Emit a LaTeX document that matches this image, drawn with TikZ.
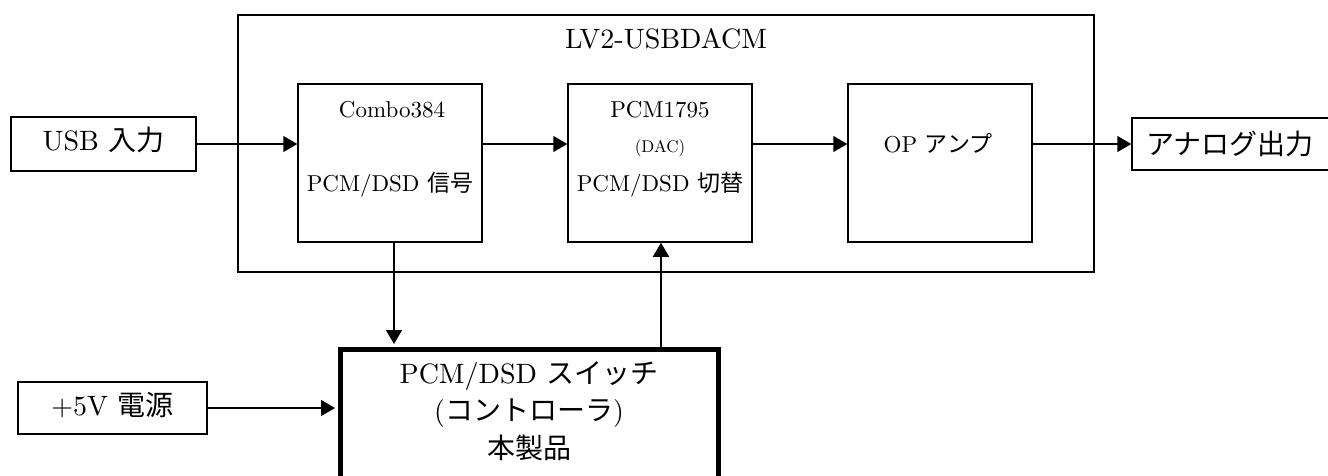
\documentclass[tikz,border=0pt]{standalone}
\usepackage{fontspec}
\setmainfont{lmroman10}[Extension=.otf, UprightFont=*-regular]
\newfontfamily\jp{Noto Sans CJK JP}
\usetikzlibrary{positioning}
\usetikzlibrary{arrows.meta}

\begin{document}
\begin{tikzpicture}[x=1pt, y=-1pt,
		blk/.style={draw, rectangle, line width=1.5pt, inner sep=0pt},
		ctrlbox/.style={draw, rectangle, line width=5pt, inner sep=0pt},
		arr/.style={-{Triangle[length=14pt, width=16pt]}, line width=1.5pt},
		lg/.style={font=\fontsize{28}{34}\selectfont},
		md/.style={font=\fontsize{23}{28}\selectfont},
		sm/.style={font=\fontsize{17}{20}\selectfont}]
			\clip (0,0) rectangle (1328,475);

			% board
			\node[blk, minimum width=856pt, minimum height=257pt] (lv2) at (666,143.5) {};
			\node[lg, anchor=base] (lv2t) at (666,48) {LV2-USBDACM};

			\node[blk, minimum width=185pt, minimum height=54pt] (usb) at (103.5,144) {};
			\node[lg, anchor=base] (usbt) at (103.5,150) {USB {\jp 入力}};

			\node[blk, minimum width=184pt, minimum height=158pt] (combo) at (390,163) {};
			\node[md, anchor=base] (combot) at (392,117) {Combo384};
			\node[md, anchor=base] (combos) at (390,191) {PCM/DSD {\jp 信号}};

			\node[blk, minimum width=184pt, minimum height=158pt] (pcm) at (660,163) {};
			\node[md, anchor=base] (pcmt) at (660,117) {PCM1795};
			\node[sm, anchor=base] (pcmd) at (660,152) {(DAC)};
			\node[md, anchor=base] (pcms) at (660,191) {PCM/DSD {\jp 切替}};

			\node[blk, minimum width=184pt, minimum height=158pt] (op) at (940,163) {};
			\node[md, anchor=base] (opt) at (938,152) {OP {\jp アンプ}};

			\node[blk, minimum width=197pt, minimum height=52pt] (ana) at (1230.5,144) {};
			\node[lg] (anat) at (1230,144) {\jp アナログ出力};

			% controller
			\node[ctrlbox, minimum width=378pt, minimum height=200pt] (ctrl) at (529,449) {};
			\node[lg, anchor=base] (ctrl1) at (529,383) {PCM/DSD {\jp スイッチ}};
			\node[lg, anchor=base] (ctrl2) at (529,420) {({\jp コントローラ})};
			\node[lg, anchor=base] (ctrl3) at (529,458) {\jp 本製品};

			\node[blk, minimum width=189pt, minimum height=52pt] (pwr) at (112.5,408) {};
			\node[lg, anchor=base] (pwrt) at (112.5,415) {+5V {\jp 電源}};

			% signal path
			\draw[arr] (usb.east) -- (usb.east -| combo.west);
			\draw[arr] (combo.east |- usb.east) -- (pcm.west |- usb.east);
			\draw[arr] (pcm.east |- usb.east) -- (op.west |- usb.east);
			\draw[arr] (op.east |- usb.east) -- (ana.west);

			\draw[arr, shorten >=2.5pt] ([xshift=4pt]combo.south) -- ([xshift=4pt]combo.south |- ctrl.north);
			\draw[arr] ([xshift=1pt]pcm.south |- ctrl.north) -- ([xshift=1pt]pcm.south);
			\draw[arr, shorten >=2.5pt] (pwr.east) -- (pwr.east -| ctrl.west);
		\end{tikzpicture}
\end{document}
